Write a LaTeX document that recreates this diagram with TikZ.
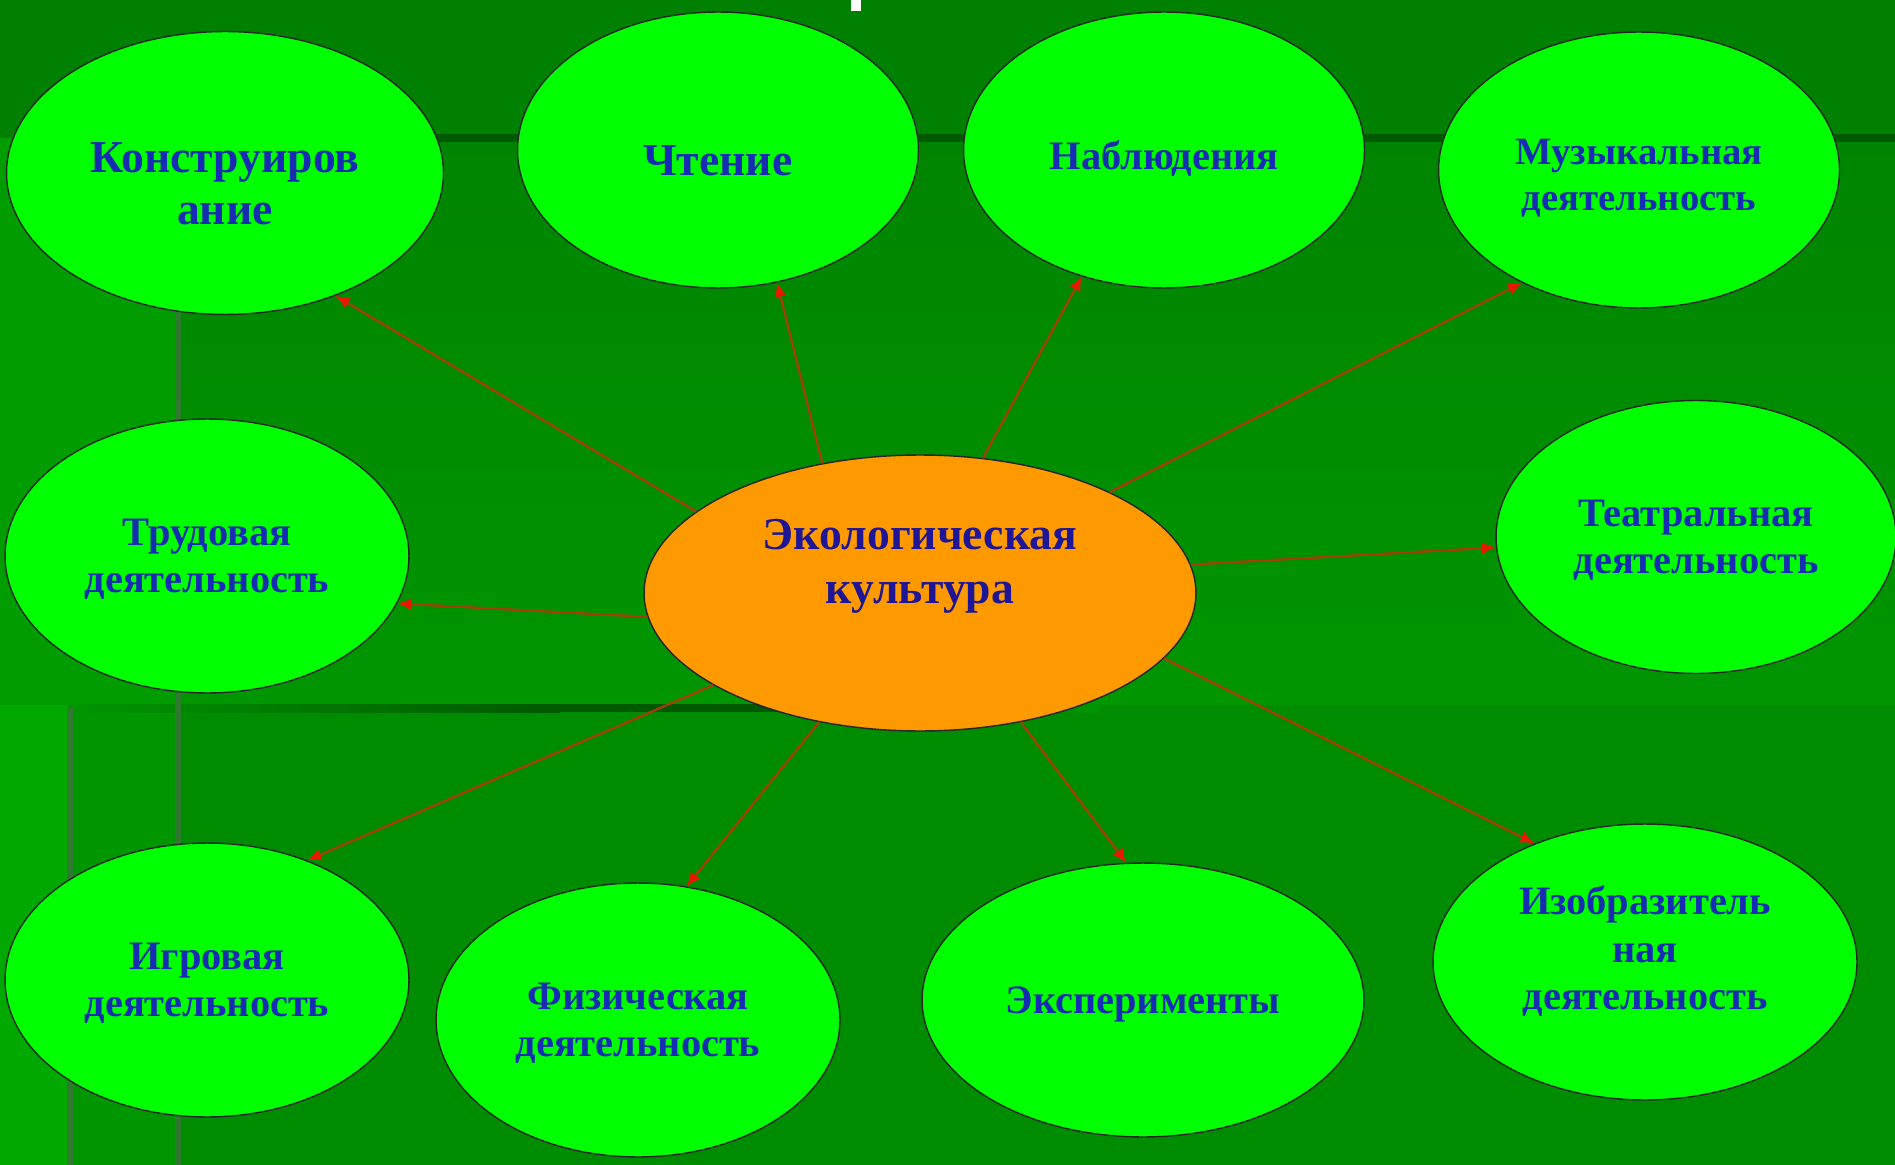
\documentclass[tikz,border=0pt]{standalone}
\usepackage{fontspec}
\setmainfont{Liberation Serif}
\usetikzlibrary{arrows.meta,%
                shapes.geometric}

\definecolor{bgdark}{RGB}{0,128,0}
\definecolor{bgleft}{RGB}{0,156,0}
\definecolor{bgtop}{RGB}{0,132,0}
\definecolor{bgmid}{RGB}{0,150,0}
\definecolor{bglow}{RGB}{0,140,0}
\definecolor{bgcorner}{RGB}{0,168,0}
\definecolor{bgstrip}{RGB}{0,150,0}
\definecolor{bgline}{RGB}{0,88,0}
\definecolor{bgvline}{RGB}{48,122,48}
\definecolor{bubble}{RGB}{0,255,0}
\definecolor{core}{RGB}{255,153,0}
\definecolor{txtblue}{RGB}{22,44,178}
\definecolor{txtnavy}{RGB}{30,22,150}
\definecolor{arrline}{RGB}{165,62,10}
\definecolor{arrhead}{RGB}{232,25,0}

\begin{document}
\begin{tikzpicture}[x=0.02cm,y=-0.02cm]
  \tikzset{Bubble/.style = {draw=black!85,line width=0.8pt,fill=bubble,shape=ellipse,inner sep=0pt,text depth=0pt,
                            align=center,text=txtblue,font=\fontsize{23}{27}\selectfont\bfseries}}
  \tikzset{EdgeStyle/.style = {draw=arrline,line width=1.3pt,-{Latex[length=8pt,width=7pt,color=arrhead]}}}
  \useasboundingbox (0,0) rectangle (1895,1165);
  % background
  \fill[bgdark] (0,0) rectangle (1895,1165);
  \fill[bgleft] (0,138) rectangle (178,705);
  \shade[top color=bgtop,bottom color=bgmid] (178,138) rectangle (1895,705);
  \fill[bglow] (178,705) rectangle (1895,1165);
  \fill[bgcorner] (0,705) rectangle (67,1165);
  \fill[bgstrip] (67,705) rectangle (178,1165);
  \fill[bgline] (178,134) rectangle (1895,142);
  \shade[left color=bgstrip,right color=bgline] (67,704) rectangle (560,712);
  \fill[bgline] (560,704) rectangle (800,712);
  \shade[left color=bgline,right color=bgmid] (800,704) rectangle (1100,712);
  \fill[bgvline] (175,138) rectangle (181,1165);
  \fill[bgvline] (67,708) rectangle (73,1165);
  \fill[white] (851,0) rectangle (861,11);
  % top row
  \node[Bubble,minimum width=8.74cm,minimum height=5.66cm,text height=59pt,font=\fontsize{26}{30}\selectfont\bfseries] (kon) at (225,173) {Конструиров\\ание};
  \node[Bubble,minimum width=8.02cm,minimum height=5.52cm,text height=29pt,font=\fontsize{26}{30}\selectfont\bfseries] (cht) at (718,150) {Чтение};
  \node[Bubble,minimum width=8.02cm,minimum height=5.52cm,text height=22.5pt] (nab) at (1164,150) {Наблюдения};
  \node[Bubble,minimum width=8.02cm,minimum height=5.52cm,text height=46pt,font=\fontsize{22}{26}\selectfont\bfseries] (muz) at (1639,170) {Музыкальная\\деятельность};
  % middle row
  \node[Bubble,minimum width=8.08cm,minimum height=5.48cm] (tru) at (207,556) {Трудовая\\деятельность};
  \node[Bubble,fill=core,text=txtnavy,minimum width=11.04cm,minimum height=5.52cm,text depth=36pt,
        font=\fontsize{26}{31}\selectfont\bfseries] (eco) at (920,593) {Экологическая\\культура};
  \node[Bubble,minimum width=8.0cm,minimum height=5.46cm] (tea) at (1696,537) {Театральная\\деятельность};
  % bottom row
  \node[Bubble,minimum width=8.08cm,minimum height=5.48cm] (igr) at (207,980) {Игровая\\деятельность};
  \node[Bubble,minimum width=8.08cm,minimum height=5.48cm] (fiz) at (638,1020) {Физическая\\деятельность};
  \node[Bubble,minimum width=8.84cm,minimum height=5.48cm] (eks) at (1143,1000) {Эксперименты};
  \node[Bubble,minimum width=8.48cm,minimum height=5.52cm,text depth=16pt] (izo) at (1645,962) {Изобразитель\\ная\\деятельность};
  % arrows
  \draw[EdgeStyle] (eco.160) -- (kon.312);
  \draw[EdgeStyle] (eco.127) -- (cht.294);
  \draw[EdgeStyle] (eco.65) -- (nab.237);
  \draw[EdgeStyle] (eco.28) -- (muz.224);
  \draw[EdgeStyle] (eco.6) -- (tea.183);
  \draw[EdgeStyle] (eco.185) -- (tru.346);
  \draw[EdgeStyle] (eco.204) -- (igr.50);
  \draw[EdgeStyle] (eco.232) -- (fiz.70);
  \draw[EdgeStyle] (eco.308) -- (eks.97);
  \draw[EdgeStyle] (eco.345) -- (izo.133);
\end{tikzpicture}
\end{document}
